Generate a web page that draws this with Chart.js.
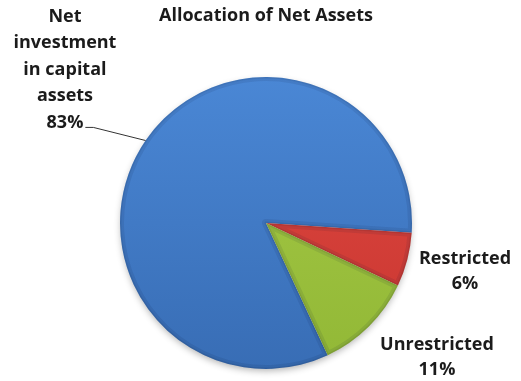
<!DOCTYPE html>
<html>
<head>
<meta charset="utf-8">
<title>Allocation of Net Assets</title>
<script src="https://cdn.jsdelivr.net/npm/chart.js@4/dist/chart.umd.min.js"></script>
<style>
  html, body { margin: 0; padding: 0; background: #fff; }
  #wrap { width: 521px; height: 381px; }
</style>
</head>
<body>
<div id="wrap"><canvas id="assets-pie" width="521" height="381"></canvas></div>
<script>
// Net asset categories and their share of the total (%)
const categories = ['Net investment in capital assets', 'Restricted', 'Unrestricted'];
const shares = [83, 6, 11];
const labelLines = [['Net', 'investment', 'in capital', 'assets'], ['Restricted'], ['Unrestricted']];
const chartTitle = 'Allocation of Net Assets';

// light / dark stops for each slice
const sliceColors = [
    ['#4a87d5', '#386db5'],
    ['#df4a43', '#c9352f'],
    ['#a6ca47', '#92b836']
];

const FONT = '"Open Sans", "Lato", sans-serif';
const TEXT_COLOR = '#1b1b1b';

// label placement, in units of the pie radius from its centre
const labelPlacement = [
    { dx: -1.377, dy: -1.415, lineH: 26.5, leader: true },
    { dx: 1.363, dy: 0.247, lineH: 25 },
    { dx: 1.171, dy: 0.836, lineH: 25 }
];

function sliceFill(ctx) {
    const chart = ctx.chart;
    const area = chart.chartArea;
    const c = sliceColors[ctx.dataIndex];
    if (!area) return c[0];
    const g = chart.ctx.createLinearGradient(0, area.top, 0, area.bottom);
    g.addColorStop(0, c[0]);
    g.addColorStop(1, c[1]);
    return g;
}

function arcPath(ctx, a) {
    ctx.beginPath();
    ctx.moveTo(a.x, a.y);
    ctx.arc(a.x, a.y, a.outerRadius, a.startAngle, a.endAngle);
    ctx.closePath();
}

// soft drop shadow under the pie
const pieShadow = {
    id: 'pieShadow',
    beforeDatasetsDraw(chart) {
        const arcs = chart.getDatasetMeta(0).data;
        if (!arcs.length) return;
        const a = arcs[0];
        const ctx = chart.ctx;
        ctx.save();
        ctx.shadowColor = 'rgba(0,0,0,0.3)';
        ctx.shadowBlur = 7;
        ctx.shadowOffsetY = 3;
        ctx.fillStyle = '#ffffff';
        ctx.beginPath();
        ctx.arc(a.x, a.y, a.outerRadius - 1, 0, Math.PI * 2);
        ctx.fill();
        ctx.restore();
    }
};

// bevelled rim on every slice
const pieBevel = {
    id: 'pieBevel',
    afterDatasetsDraw(chart) {
        const ctx = chart.ctx;
        chart.getDatasetMeta(0).data.forEach(a => {
            ctx.save();
            arcPath(ctx, a);
            ctx.clip();
            arcPath(ctx, a);
            ctx.lineJoin = 'round';
            ctx.lineWidth = 8;
            ctx.strokeStyle = 'rgba(10,20,50,0.09)';
            ctx.stroke();
            ctx.lineWidth = 3;
            ctx.strokeStyle = 'rgba(0,0,0,0.07)';
            ctx.stroke();
            ctx.restore();
        });
    }
};

// title, category labels and the leader line
const pieLabels = {
    id: 'pieLabels',
    afterDraw(chart) {
        const ctx = chart.ctx;
        const arcs = chart.getDatasetMeta(0).data;
        if (!arcs.length) return;
        const cx = arcs[0].x, cy = arcs[0].y, r = arcs[0].outerRadius;
        ctx.save();
        ctx.fillStyle = TEXT_COLOR;
        ctx.textAlign = 'center';
        ctx.textBaseline = 'middle';

        ctx.font = 'bold 18px ' + FONT;
        ctx.fillText(chartTitle, cx, 16);

        arcs.forEach((a, i) => {
            const p = labelPlacement[i];
            const x = cx + p.dx * r;
            const y = cy + p.dy * r;
            const lines = labelLines[i].concat([shares[i] + '%']);
            lines.forEach((t, k) => ctx.fillText(t, x, y + k * p.lineH));

            if (p.leader) {
                const lastY = y + (lines.length - 1) * p.lineH + 5;
                const w = ctx.measureText(lines[lines.length - 1]).width;
                const sx = x + w / 2 + 2;
                const mid = (a.startAngle + a.endAngle) / 2;
                const ex = a.x + Math.cos(mid) * a.outerRadius;
                const ey = a.y + Math.sin(mid) * a.outerRadius;
                ctx.beginPath();
                ctx.moveTo(sx, lastY);
                ctx.lineTo(sx + 8, lastY);
                ctx.lineTo(ex, ey);
                ctx.lineWidth = 1;
                ctx.strokeStyle = '#333';
                ctx.stroke();
            }
        });
        ctx.restore();
    }
};

new Chart(document.getElementById('assets-pie').getContext('2d'), {
    type: 'pie',
    data: {
        labels: categories,
        datasets: [{
            data: shares,
            backgroundColor: sliceFill,
            borderWidth: 0,
            hoverOffset: 0
        }]
    },
    options: {
        responsive: false,
        animation: false,
        rotation: 155,
        layout: { padding: { left: 120, right: 109, top: 77, bottom: 12 } },
        plugins: { legend: { display: false }, tooltip: { enabled: false }, title: { display: false } }
    },
    plugins: [pieShadow, pieBevel, pieLabels]
});
</script>
</body>
</html>
